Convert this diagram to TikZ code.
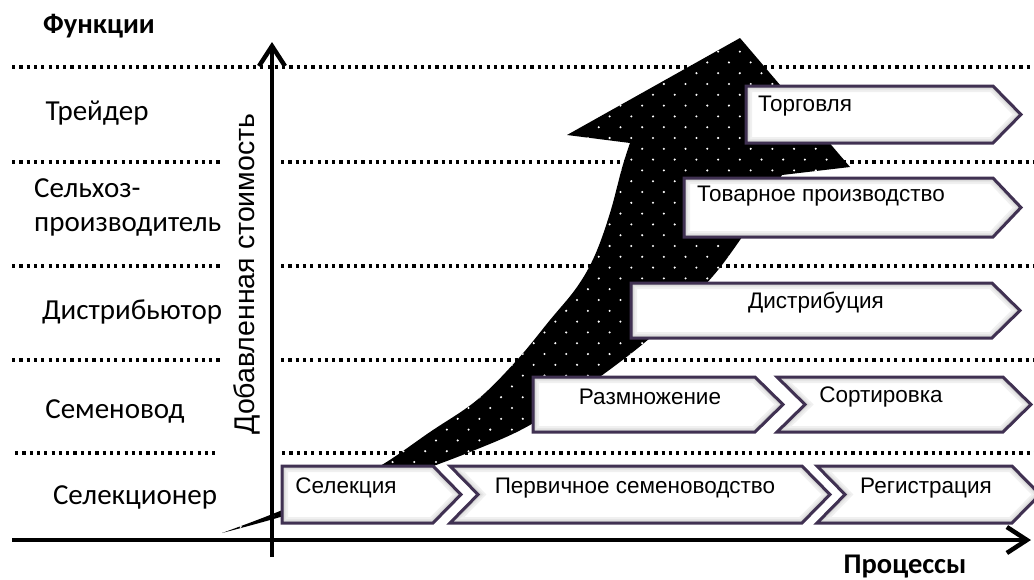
\documentclass[tikz,border=0pt]{standalone}
\usepackage{fontspec}
\setmainfont{Carlito}
\newfontfamily\arialf{Liberation Sans}
\usetikzlibrary{arrows.meta}
\definecolor{boxedge}{RGB}{64,49,82}
\tikzset{
  dotline/.style={line width=3.2pt, dash pattern=on 3.2pt off 4.1pt, black},
  axisline/.style={line width=4.5pt, -{Straight Barb[length=20pt,width=26pt,line width=4.5pt]}},
  rolelabel/.style={font=\fontsize{29}{34}\selectfont, inner sep=0pt, align=left},
  boxtext/.style={font=\arialf\fontsize{22.5}{26}\selectfont, inner sep=0pt},
  boxline/.style={draw=boxedge, line width=3pt, line join=miter},
  titletext/.style={font=\bfseries\fontsize{28.5}{32}\selectfont, inner sep=0pt},
  axislabel/.style={font=\arialf\fontsize{28.5}{32}\selectfont, inner sep=0pt, rotate=90},
}
% chevron: #1 left x, #2 right corner x, #3 top y, #4 bottom y, #5 notch depth
\newcommand\chevshape[5]{%
  \begin{scope}
    \clip (#1,#3) -- (#2,#3) -- ({#2+28},{(#3+#4)/2}) -- (#2,#4) -- (#1,#4) -- ({#1+#5},{(#3+#4)/2}) -- cycle;
    \fill[white] (#1,#3) rectangle ({#2+28},#4);
    \foreach \w/\c in {12/6, 8/10, 5/16, 3/24}{
      \draw[line width=\w pt, black!\c, line join=miter] (#1,#3) -- (#2,#3) -- ({#2+28},{(#3+#4)/2}) -- (#2,#4) -- (#1,#4) -- ({#1+#5},{(#3+#4)/2}) -- cycle;}
  \end{scope}
  \draw[boxline] (#1,#3) -- (#2,#3) -- ({#2+28},{(#3+#4)/2}) -- (#2,#4) -- (#1,#4) -- ({#1+#5},{(#3+#4)/2}) -- cycle;
}
\def\arrowpath{plot[smooth, tension=0.6] coordinates {(222,533) (270,515) (330,490) (380,466) (430,432) (477,400) (517,360) (550,320) (577,287) (595,255) (610,213) (622,168) (630,143)}
  -- (567,135) -- (740,38) -- (850,167) -- (782,175)
  -- plot[smooth, tension=0.6] coordinates {(782,175) (740,240) (705,285) (650,338) (590,384) (530,425) (470,452) (400,478) (330,502) (270,520) (222,533)} -- cycle}
\begin{document}
\begin{tikzpicture}[x=1pt, y=-1pt]
\useasboundingbox (0,0) rectangle (1034,579);
% dotted level lines
\draw[dotline] (12,67) -- (1034,67);
\foreach \yy in {162,266,360}{
  \draw[dotline] (12,\yy) -- (222,\yy);
  \draw[dotline] (281,\yy) -- (1034,\yy);
}
\draw[dotline] (15,453) -- (218,453);
\draw[dotline] (282,453) -- (1034,453);
% big curved arrow
\fill[black] \arrowpath;
\begin{scope}
  \clip \arrowpath;
  \foreach \j in {0,...,47}{
    \foreach \i in {0,...,30}{
      \fill[white] ({219+21.7*\i+10.85*mod(\j,2)},{30+10.8*\j}) circle (1.15pt);
    }
  }
\end{scope}
% process chevrons
\chevshape{282}{433}{466}{523}{0}
\chevshape{450}{802}{466}{523}{28}
\chevshape{817}{1012}{466}{523}{28}
\chevshape{533}{755}{377}{432}{0}
\chevshape{777}{1003}{377}{432}{28}
\chevshape{631}{992}{283}{338}{0}
\chevshape{684}{993}{178}{237}{0}
\chevshape{746}{993}{86}{143}{0}
% axes
\coordinate (yb) at (272,557);
\coordinate (yt) at (272,42);
\coordinate (xl) at (12,540);
\coordinate (xr) at (1031,540);
\draw[axisline] (yb) -- (yt);
\draw[axisline] (xl) -- (xr);
% texts
\node[titletext] (funk) at (99,26) {Функции};
\node[titletext] (proc) at (905,567) {Процессы};
\node[axislabel] (vlabel) at (247,274) {Добавленная стоимость};
\node[rolelabel] (trader) at (97,113) {Трейдер};
\node[rolelabel, anchor=west] (farmer) at (34,207) {Сельхоз-\\производитель};
\node[rolelabel] (distr) at (132,312) {Дистрибьютор};
\node[rolelabel] (seedgr) at (115,411) {Семеновод};
\node[rolelabel] (breeder) at (135,497) {Селекционер};
\node[boxtext] (t1) at (805,106) {Торговля};
\node[boxtext] (t2) at (821,196) {Товарное производство};
\node[boxtext] (t3) at (816,303) {Дистрибуция};
\node[boxtext] (t4) at (650,397) {Размножение};
\node[boxtext] (t5) at (881,397) {Сортировка};
\node[boxtext] (t6) at (346,488) {Селекция};
\node[boxtext] (t7) at (635,488) {Первичное семеноводство};
\node[boxtext] (t8) at (926,488) {Регистрация};
\end{tikzpicture}
\end{document}
